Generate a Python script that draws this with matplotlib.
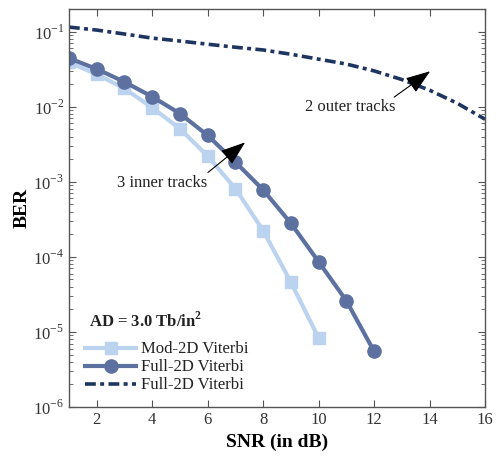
import numpy as np
import matplotlib
matplotlib.use("Agg")
import matplotlib.pyplot as plt
from matplotlib.ticker import LogLocator, FixedLocator, NullFormatter

plt.rcParams['font.family'] = 'Liberation Serif'
plt.rcParams['mathtext.fontset'] = 'custom'
plt.rcParams['mathtext.rm'] = 'Liberation Serif'
plt.rcParams['mathtext.bf'] = 'Liberation Serif:bold'

# data
snr_mod = [1, 2, 3, 4, 5, 6, 7, 8, 9, 10]
ber_mod = [0.039, 0.0271, 0.0175, 0.0097, 0.0051, 0.0022, 0.00081, 0.000224, 4.6e-5, 8.3e-6]

snr_full = [1, 2, 3, 4, 5, 6, 7, 8, 9, 10, 11, 12]
ber_full = [0.0443, 0.0318, 0.0214, 0.0136, 0.0081, 0.00415, 0.00183, 0.00078,
            0.00028, 8.6e-5, 2.6e-5, 5.5e-6]

snr_outer = [1, 2, 3, 4, 5, 6, 7, 8, 9, 10, 11, 12, 13, 14, 15, 16]
ber_outer = [0.115, 0.105, 0.093, 0.082, 0.075, 0.068, 0.062, 0.057, 0.050,
             0.043, 0.037, 0.030, 0.023, 0.0166, 0.0111, 0.0068]

labels = ['Mod-2D Viterbi', 'Full-2D Viterbi', 'Full-2D Viterbi']

c_light = '#bcd3f0'
c_mid = '#5c71a0'
c_dark = '#1e3560'

fig = plt.figure(figsize=(4.96, 4.59), dpi=100)
ax = fig.add_axes([0.139, 0.1133, 0.839, 0.867])

ax.plot(snr_mod, ber_mod, color=c_light, lw=3, marker='s', ms=8, label=labels[0])
ax.plot(snr_full, ber_full, color=c_mid, lw=3, marker='o', ms=9.5, label=labels[1])
ax.plot(snr_outer, ber_outer, color=c_dark, lw=2.6, dashes=(3, 1.2, 1.1, 1.2), label=labels[2])

ax.set_yscale('log')
ax.set_xlim(1, 16)
ax.set_ylim(1e-6, 0.2)
ax.set_xticks([2, 4, 6, 8, 10, 12, 14, 16])
ax.yaxis.set_major_locator(FixedLocator([1e-6, 1e-5, 1e-4, 1e-3, 1e-2, 1e-1]))
ax.set_yticklabels([r'$10^{-6}$', r'$10^{-5}$', r'$10^{-4}$', r'$10^{-3}$', r'$10^{-2}$', r'$10^{-1}$'])
ax.yaxis.set_minor_locator(LogLocator(base=10, subs=np.arange(2, 10)))
ax.yaxis.set_minor_formatter(NullFormatter())

ax.tick_params(which='both', direction='in', top=True, right=True, colors='#555555',
               labelcolor='#333333', labelsize=12)
ax.tick_params(which='major', length=5)
ax.tick_params(which='minor', length=3)
for s in ax.spines.values():
    s.set_color('#555555')
    s.set_linewidth(1)

ax.set_xlabel('SNR (in dB)', fontsize=14, fontweight='bold', labelpad=4)
ax.set_ylabel('BER', fontsize=14, fontweight='bold', labelpad=2)

arrow = dict(arrowstyle='-|>,head_length=0.7,head_width=0.25', color='black', lw=0.8,
             mutation_scale=22, shrinkA=0, shrinkB=0)
ax.annotate('', xy=(7.35, 3.35e-3), xytext=(6.01, 1.33e-3), arrowprops=arrow)
ax.text(4.35, 9.5e-4, '3 inner tracks', fontsize=12, ha='center', va='center', color='#222222')
ax.annotate('', xy=(14.02, 0.0297), xytext=(12.72, 0.0134), arrowprops=arrow)
ax.text(11.13, 0.0098, '2 outer tracks', fontsize=12, ha='center', va='center', color='#222222')

ax.text(0.047, 0.215, r'AD = 3.0 Tb/in$^\mathbf{2}$', transform=ax.transAxes, fontsize=12,
        fontweight='bold', ha='left', va='center', color='#222222')

leg = ax.legend(loc='lower left', bbox_to_anchor=(0.01, 0.005), frameon=False, fontsize=12,
                handlelength=3.1, handletextpad=0.25, labelspacing=0.12, borderaxespad=0.3)
for t in leg.get_texts():
    t.set_color('#222222')

fig.savefig('out.png', dpi=100)
